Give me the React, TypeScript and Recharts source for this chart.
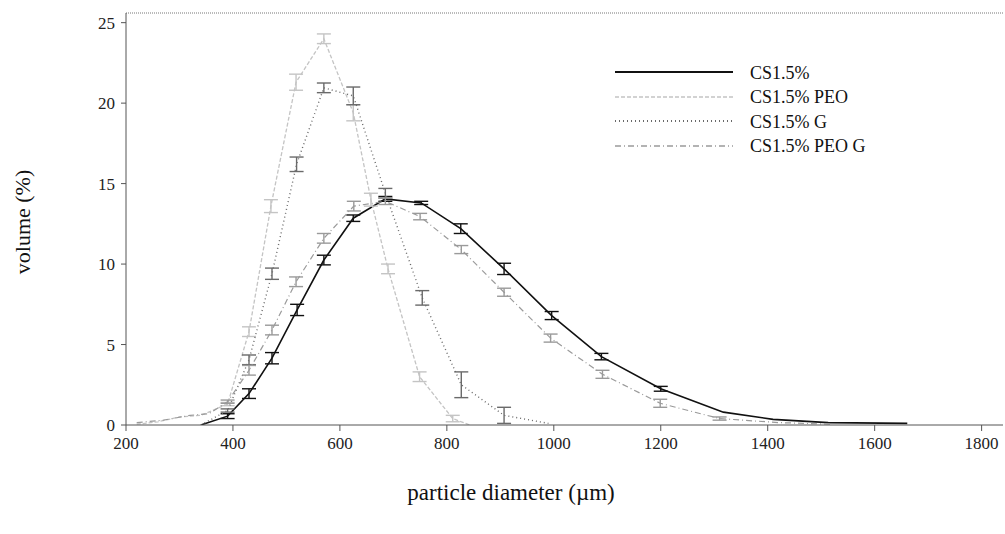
import {
  ErrorBar,
  Label,
  Line,
  LineChart,
  ReferenceLine,
  XAxis,
  YAxis,
} from 'recharts'

// CS1.5%
const CS_X = [340, 390, 430, 473, 520, 570, 625, 685, 752, 826, 907, 996, 1089, 1200, 1317, 1410, 1513, 1661]
const CS_Y = [0, 0.55, 1.95, 4.15, 7.15, 10.25, 12.85, 14.05, 13.8, 12.2, 9.7, 6.8, 4.25, 2.25, 0.8, 0.35, 0.15, 0.1]
const CS_ERR = [0, 0.15, 0.3, 0.35, 0.35, 0.3, 0.2, 0.15, 0.1, 0.3, 0.35, 0.25, 0.2, 0.15, 0, 0, 0, 0]

// CS1.5% PEO
const PEO_X = [220, 260, 300, 340, 390, 430, 471, 518, 570, 625, 658, 690, 749, 811, 843]
const PEO_Y = [0.05, 0.2, 0.5, 0.6, 1.3, 5.8, 13.6, 21.3, 24.0, 19.4, 14.0, 9.7, 3.0, 0.4, 0]
const PEO_ERR = [0, 0, 0, 0, 0.1, 0.3, 0.4, 0.5, 0.3, 0.5, 0.4, 0.3, 0.3, 0.2, 0]

// CS1.5% G
const G_X = [340, 390, 430, 473, 519, 570, 625, 685, 754, 827, 907, 990]
const G_Y = [0, 0.9, 4.05, 9.4, 16.2, 20.95, 20.45, 14.4, 7.9, 2.5, 0.6, 0.1]
const G_ERR = [0, 0.1, 0.3, 0.35, 0.45, 0.3, 0.55, 0.3, 0.45, 0.8, 0.5, 0]

// CS1.5% PEO G
const PEOG_X = [220, 270, 320, 355, 390, 430, 473, 518, 570, 626, 685, 750, 827, 907, 994, 1091, 1199, 1310, 1420, 1520]
const PEOG_Y = [0.15, 0.3, 0.6, 0.7, 1.45, 3.4, 5.9, 8.9, 11.6, 13.6, 13.9, 12.95, 10.9, 8.25, 5.4, 3.15, 1.35, 0.4, 0.15, 0.05]
const PEOG_ERR = [0, 0, 0, 0, 0.1, 0.3, 0.3, 0.3, 0.3, 0.3, 0.2, 0.2, 0.25, 0.25, 0.25, 0.25, 0.25, 0.1, 0, 0]

const X_TICKS = [200, 400, 600, 800, 1000, 1200, 1400, 1600, 1800]
const Y_TICKS = [0, 5, 10, 15, 20, 25]

const FONT = '"Liberation Serif", "DejaVu Serif", serif'

const toRows = (xs: number[], ys: number[], errs: number[]) =>
  xs.map((x, i) => ({ x, y: ys[i], err: errs[i] }))

const SERIES = [
  { name: 'CS1.5%', data: toRows(CS_X, CS_Y, CS_ERR), color: '#111', dash: undefined, width: 1.6 },
  { name: 'CS1.5% PEO', data: toRows(PEO_X, PEO_Y, PEO_ERR), color: '#c4c4c4', dash: '4 2', width: 1.3 },
  { name: 'CS1.5% G', data: toRows(G_X, G_Y, G_ERR), color: '#6a6a6a', dash: '1 3', width: 1.4 },
  { name: 'CS1.5% PEO G', data: toRows(PEOG_X, PEOG_Y, PEOG_ERR), color: '#9a9a9a', dash: '6 3 1 3', width: 1.2 },
]

export default function App() {
  return (
    <div style={{ position: 'absolute', left: 0, top: 0, width: 1005, height: 534, background: '#fff' }}>
      <LineChart width={1005} height={534} margin={{ top: 13, right: 2, bottom: 0, left: 0 }}>
        <XAxis
          dataKey="x"
          type="number"
          domain={[200, 1840]}
          ticks={X_TICKS}
          allowDataOverflow
          height={109}
          stroke="#555"
          tickSize={6}
          tickMargin={6}
          tick={{ fill: '#222', fontSize: 17, fontFamily: FONT }}
        >
          <Label
            content={() => (
              <text x={511} y={500} textAnchor="middle" fontFamily={FONT} fontSize={23} fill="#111">
                particle diameter (µm)
              </text>
            )}
          />
        </XAxis>
        <YAxis
          dataKey="y"
          type="number"
          domain={[0, 25.6]}
          ticks={Y_TICKS}
          allowDataOverflow
          width={126}
          stroke="#555"
          tickSize={5}
          tickMargin={6}
          tick={{ fill: '#222', fontSize: 17, fontFamily: FONT }}
        >
          <Label
            content={() => (
              <text
                x={22}
                y={222}
                textAnchor="middle"
                dominantBaseline="central"
                transform="rotate(-90 22 222)"
                fontFamily={FONT}
                fontSize={22}
                fill="#111"
              >
                volume (%)
              </text>
            )}
          />
        </YAxis>
        <ReferenceLine y={25.6} stroke="#777" strokeDasharray="1 1" />
        {SERIES.map((s) => (
          <Line
            key={s.name}
            name={s.name}
            data={s.data}
            dataKey="y"
            type="linear"
            stroke={s.color}
            strokeWidth={s.width}
            strokeDasharray={s.dash}
            dot={false}
            activeDot={false}
            isAnimationActive={false}
          >
            <ErrorBar dataKey="err" direction="y" width={7} stroke={s.color} strokeWidth={1.4} />
          </Line>
        ))}
      </LineChart>

      {/* legend drawn on top of the plot, like the original */}
      <div style={{ position: 'absolute', top: 61, left: 615, fontFamily: FONT, fontSize: 18, color: '#111' }}>
        {SERIES.map((s) => (
          <div key={s.name} style={{ display: 'flex', alignItems: 'center', height: 24.5 }}>
            <svg width={118} height={10} style={{ marginRight: 17 }}>
              <line x1={0} x2={118} y1={4} y2={4} stroke={s.color} strokeWidth={s.width + 0.4} strokeDasharray={s.dash} />
            </svg>
            <span>{s.name}</span>
          </div>
        ))}
      </div>
    </div>
  )
}
